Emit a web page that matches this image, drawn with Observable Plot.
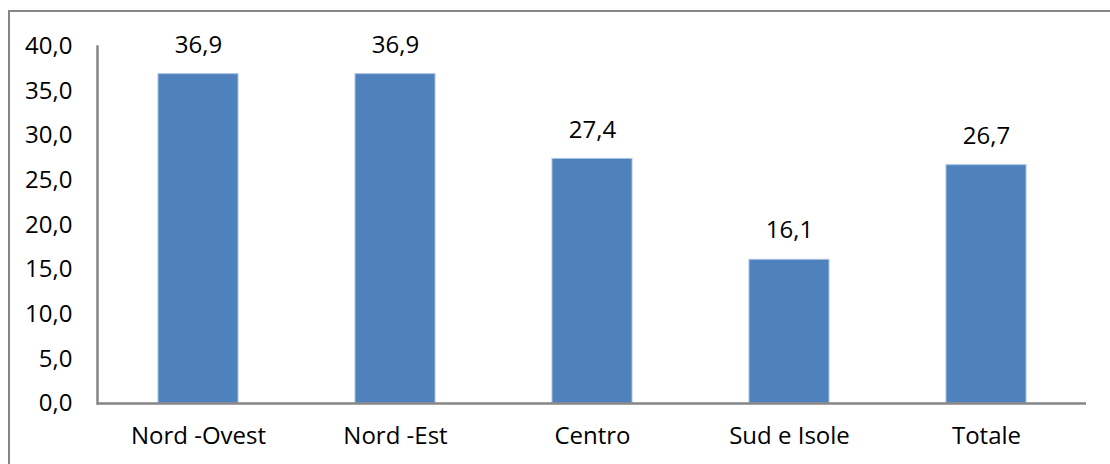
<!DOCTYPE html>
<html>
<head>
<meta charset="utf-8">
<script src="https://cdn.jsdelivr.net/npm/d3@7"></script>
<script src="https://cdn.jsdelivr.net/npm/@observablehq/plot@0.6"></script>
<style>
  html, body { margin: 0; padding: 0; background: #fff; }
  #wrap { position: relative; width: 1110px; height: 464px; overflow: hidden; }
  #frame { position: absolute; left: 8px; top: 10px; width: 1200px; height: 600px;
           border-left: 2px solid #868686; border-top: 2px solid #868686; box-sizing: border-box; }
  #chart { position: absolute; left: 0; top: 0; }
  svg { font-family: "Open Sans", "Noto Sans", sans-serif; }
</style>
</head>
<body>
<div id="wrap"><div id="frame"></div><div id="chart"></div></div>
<script>
const categories = ["Nord -Ovest", "Nord -Est", "Centro", "Sud e Isole", "Totale"];
const values = [36.9, 36.9, 27.4, 16.1, 26.7];
const yTicks = [0, 5, 10, 15, 20, 25, 30, 35, 40];

const data = categories.map((c, i) => ({category: c, value: values[i]}));
const fmt = v => v.toFixed(1).replace(".", ",");

const chart = Plot.plot({
  width: 1110,
  height: 464,
  marginLeft: 97,
  marginRight: 24,
  marginTop: 46,
  marginBottom: 61,
  style: {fontFamily: '"Open Sans", "Noto Sans", sans-serif', fontSize: "24px", color: "#000", background: "transparent"},
  x: {domain: categories, paddingInner: 0.595, paddingOuter: 0.2975, label: null},
  y: {domain: [0, 40], label: null},
  marks: [
    Plot.barY(data, {x: "category", y: "value", fill: "#4F81BD", stroke: "#A9C1E0", strokeWidth: 1, inset: 0}),
    Plot.text(data, {x: "category", y: "value", text: d => fmt(d.value), dy: -29, fontSize: 24, fill: "#000"}),
    Plot.axisY({ticks: yTicks, tickFormat: fmt, tickSize: 0, tickPadding: 25, fontSize: 24, label: null}),
    Plot.axisX({tickSize: 0, tickPadding: 23, fontSize: 24, label: null}),
    Plot.frame({anchor: "left", stroke: "#868686", strokeWidth: 2.5}),
    Plot.ruleY([0], {stroke: "#868686", strokeWidth: 2.5})
  ]
});
document.getElementById("chart").appendChild(chart);
</script>
</body>
</html>
